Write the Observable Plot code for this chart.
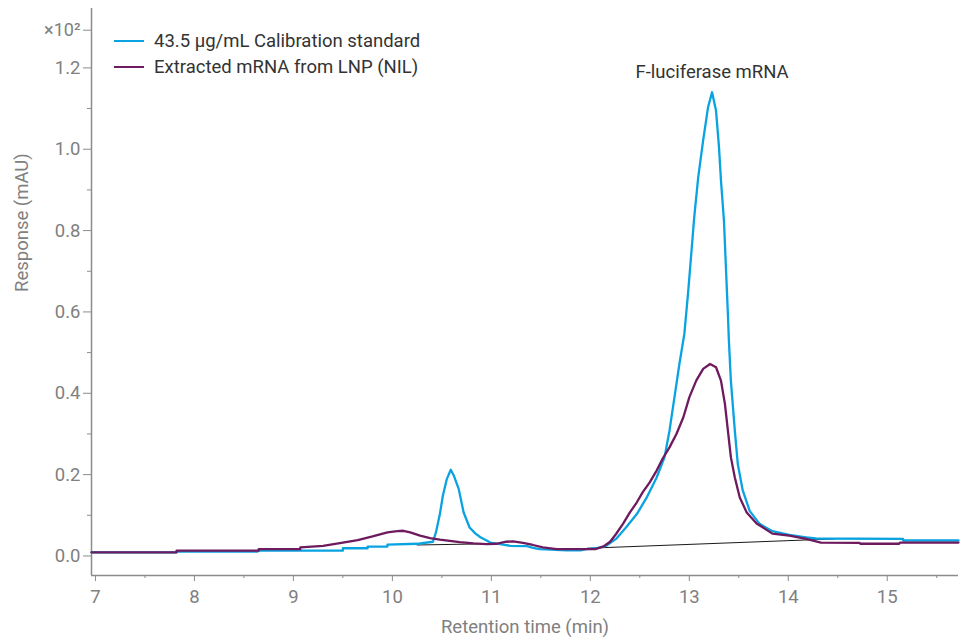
<!DOCTYPE html>
<html>
<head>
<meta charset="utf-8">
<script src="https://cdn.jsdelivr.net/npm/d3@7"></script>
<script src="https://cdn.jsdelivr.net/npm/@observablehq/plot@0.6"></script>
<style>
  html, body { margin: 0; padding: 0; background: #fff; }
  #wrap { position: relative; width: 964px; height: 640px; font-family: Roboto, "Noto Sans", sans-serif; }
  #legend { position: absolute; left: 114px; top: 28px; font-size: 18.5px; color: #333; }
  .row { display: flex; align-items: center; height: 26px; }
  .sw { width: 30px; height: 0; border-top: 2.5px solid; margin-right: 10px; }
</style>
</head>
<body>
<div id="wrap"></div>
<script>
// ---- Data (y in units of ×10² mAU) ----
const seriesNames = ["43.5 µg/mL Calibration standard", "Extracted mRNA from LNP (NIL)"];
const seriesColors = ["#0aa3e2", "#6e1a5e"];

const calibT = [6.96, 7.82, 7.82, 8.64, 8.64, 9.5, 9.5, 9.75, 9.75, 9.95, 9.95, 10.25, 10.41, 10.44, 10.48, 10.51, 10.55, 10.59, 10.62, 10.67, 10.72, 10.78, 10.84, 10.89, 10.99, 11.09, 11.19, 11.36, 11.42, 11.49, 11.76, 11.9, 11.96, 12.06, 12.16, 12.26, 12.36, 12.47, 12.57, 12.67, 12.75, 12.80, 12.85, 12.90, 12.95, 12.99, 13.02, 13.05, 13.09, 13.14, 13.19, 13.23, 13.27, 13.30, 13.32, 13.35, 13.37, 13.39, 13.40, 13.42, 13.46, 13.49, 13.54, 13.61, 13.71, 13.84, 14.01, 14.18, 14.28, 15.16, 15.16, 15.72];
const calibV = [0.009, 0.009, 0.011, 0.011, 0.013, 0.013, 0.019, 0.019, 0.023, 0.023, 0.028, 0.030, 0.035, 0.058, 0.103, 0.148, 0.189, 0.212, 0.198, 0.165, 0.107, 0.070, 0.055, 0.046, 0.033, 0.029, 0.025, 0.024, 0.020, 0.017, 0.014, 0.014, 0.017, 0.019, 0.025, 0.042, 0.070, 0.103, 0.144, 0.193, 0.243, 0.308, 0.390, 0.472, 0.546, 0.653, 0.743, 0.833, 0.931, 1.022, 1.104, 1.140, 1.095, 1.005, 0.923, 0.825, 0.710, 0.595, 0.530, 0.431, 0.308, 0.226, 0.161, 0.111, 0.079, 0.061, 0.052, 0.046, 0.043, 0.042, 0.038, 0.038];

const lnpT = [6.96, 7.82, 7.82, 8.65, 8.65, 9.07, 9.07, 9.3, 9.5, 9.65, 9.8, 9.95, 10.05, 10.11, 10.18, 10.28, 10.38, 10.48, 10.58, 10.68, 10.82, 10.95, 11.05, 11.15, 11.22, 11.32, 11.42, 11.52, 11.66, 11.89, 12.05, 12.13, 12.20, 12.26, 12.33, 12.40, 12.47, 12.53, 12.60, 12.67, 12.73, 12.80, 12.87, 12.94, 13.00, 13.07, 13.14, 13.21, 13.27, 13.32, 13.36, 13.39, 13.42, 13.46, 13.51, 13.58, 13.68, 13.84, 14.01, 14.18, 14.33, 14.72, 14.73, 15.12, 15.13, 15.72];
const lnpV = [0.009, 0.009, 0.013, 0.013, 0.017, 0.017, 0.021, 0.025, 0.033, 0.039, 0.048, 0.058, 0.061, 0.062, 0.058, 0.050, 0.044, 0.040, 0.037, 0.034, 0.031, 0.029, 0.030, 0.035, 0.036, 0.032, 0.027, 0.021, 0.017, 0.017, 0.017, 0.023, 0.035, 0.054, 0.079, 0.107, 0.132, 0.157, 0.181, 0.210, 0.239, 0.267, 0.300, 0.341, 0.390, 0.431, 0.460, 0.472, 0.464, 0.431, 0.374, 0.308, 0.243, 0.193, 0.144, 0.107, 0.080, 0.055, 0.050, 0.042, 0.033, 0.032, 0.030, 0.030, 0.033, 0.033];

// integration baselines (segment id, t, v)
const baseSeg = [1, 1, 2, 2];
const baseT = [10.25, 10.97, 11.97, 14.47];
const baseV = [0.027, 0.030, 0.019, 0.042];

const peakLabel = "F-luciferase mRNA";
const peakT = 13.23;
const peakV = 1.19;

const xMajor = [7, 8, 9, 10, 11, 12, 13, 14, 15];
const xMinor = [7.5, 8.5, 9.5, 10.5, 11.5, 12.5, 13.5, 14.5, 15.5];
const yMajor = [0, 0.2, 0.4, 0.6, 0.8, 1.0, 1.2];
const yMinor = [0.1, 0.3, 0.5, 0.7, 0.9, 1.1];
const yExpTick = [1.3];
const yExpLabel = "×10²";
const xDomain = [6.96, 15.72];
const yDomain = [-0.048, 1.346];

// ---- Build ----
const calib = calibT.map((t, i) => ({t, v: calibV[i]}));
const lnp = lnpT.map((t, i) => ({t, v: lnpV[i]}));
const base = baseT.map((t, i) => ({t, v: baseV[i], seg: baseSeg[i]}));
const axisColor = "#8c8c8c";
const FS = 18.5;

const chart = Plot.plot({
  width: 964,
  height: 640,
  marginLeft: 91,
  marginRight: 6,
  marginTop: 8,
  marginBottom: 65,
  style: {fontFamily: "Roboto, 'Noto Sans', sans-serif", fontSize: FS + "px", color: "#808080", background: "#fff"},
  x: {domain: xDomain},
  y: {domain: yDomain},
  marks: [
    Plot.ruleX([xDomain[0]], {stroke: axisColor, strokeWidth: 1.5}),
    Plot.ruleY([yDomain[0]], {stroke: axisColor, strokeWidth: 1.5}),
    Plot.axisX({ticks: xMajor, tickSize: 6, tickPadding: 8, stroke: axisColor, label: null, fontSize: FS, tickFormat: d => String(d)}),
    Plot.axisX({ticks: xMinor, tickSize: 3, stroke: axisColor, label: null, tickFormat: () => ""}),
    Plot.axisY({ticks: yMajor, tickSize: 8, tickPadding: 3, stroke: axisColor, label: null, fontSize: FS, tickFormat: d => d.toFixed(1)}),
    Plot.axisY({ticks: yMinor, tickSize: 4, stroke: axisColor, label: null, tickFormat: () => ""}),
    Plot.axisY({ticks: yExpTick, tickSize: 8, tickPadding: 3, stroke: axisColor, label: null, fontSize: 18, dy: 3, tickFormat: () => yExpLabel}),
    Plot.text(["Retention time (min)"], {frameAnchor: "bottom", dy: 57, fill: "#808080", fontSize: FS}),
    Plot.text(["Response (mAU)"], {frameAnchor: "left", dx: -69, rotate: -90, fill: "#808080", fontSize: FS}),
    Plot.line(base, {x: "t", y: "v", z: "seg", stroke: "#1a1a1a", strokeWidth: 1}),
    Plot.line(calib, {x: "t", y: "v", stroke: seriesColors[0], strokeWidth: 2.3}),
    Plot.line(lnp, {x: "t", y: "v", stroke: seriesColors[1], strokeWidth: 2.3}),
    Plot.text([{t: peakT, v: peakV, label: peakLabel}], {x: "t", y: "v", text: "label", fill: "#333", fontSize: FS})
  ]
});

const wrap = document.getElementById("wrap");
wrap.appendChild(chart);
const legend = document.createElement("div");
legend.id = "legend";
seriesNames.forEach((name, i) => {
  const row = document.createElement("div");
  row.className = "row";
  const sw = document.createElement("span");
  sw.className = "sw";
  sw.style.borderTopColor = seriesColors[i];
  const lab = document.createElement("span");
  lab.textContent = name;
  row.appendChild(sw);
  row.appendChild(lab);
  legend.appendChild(row);
});
wrap.appendChild(legend);
</script>
</body>
</html>
